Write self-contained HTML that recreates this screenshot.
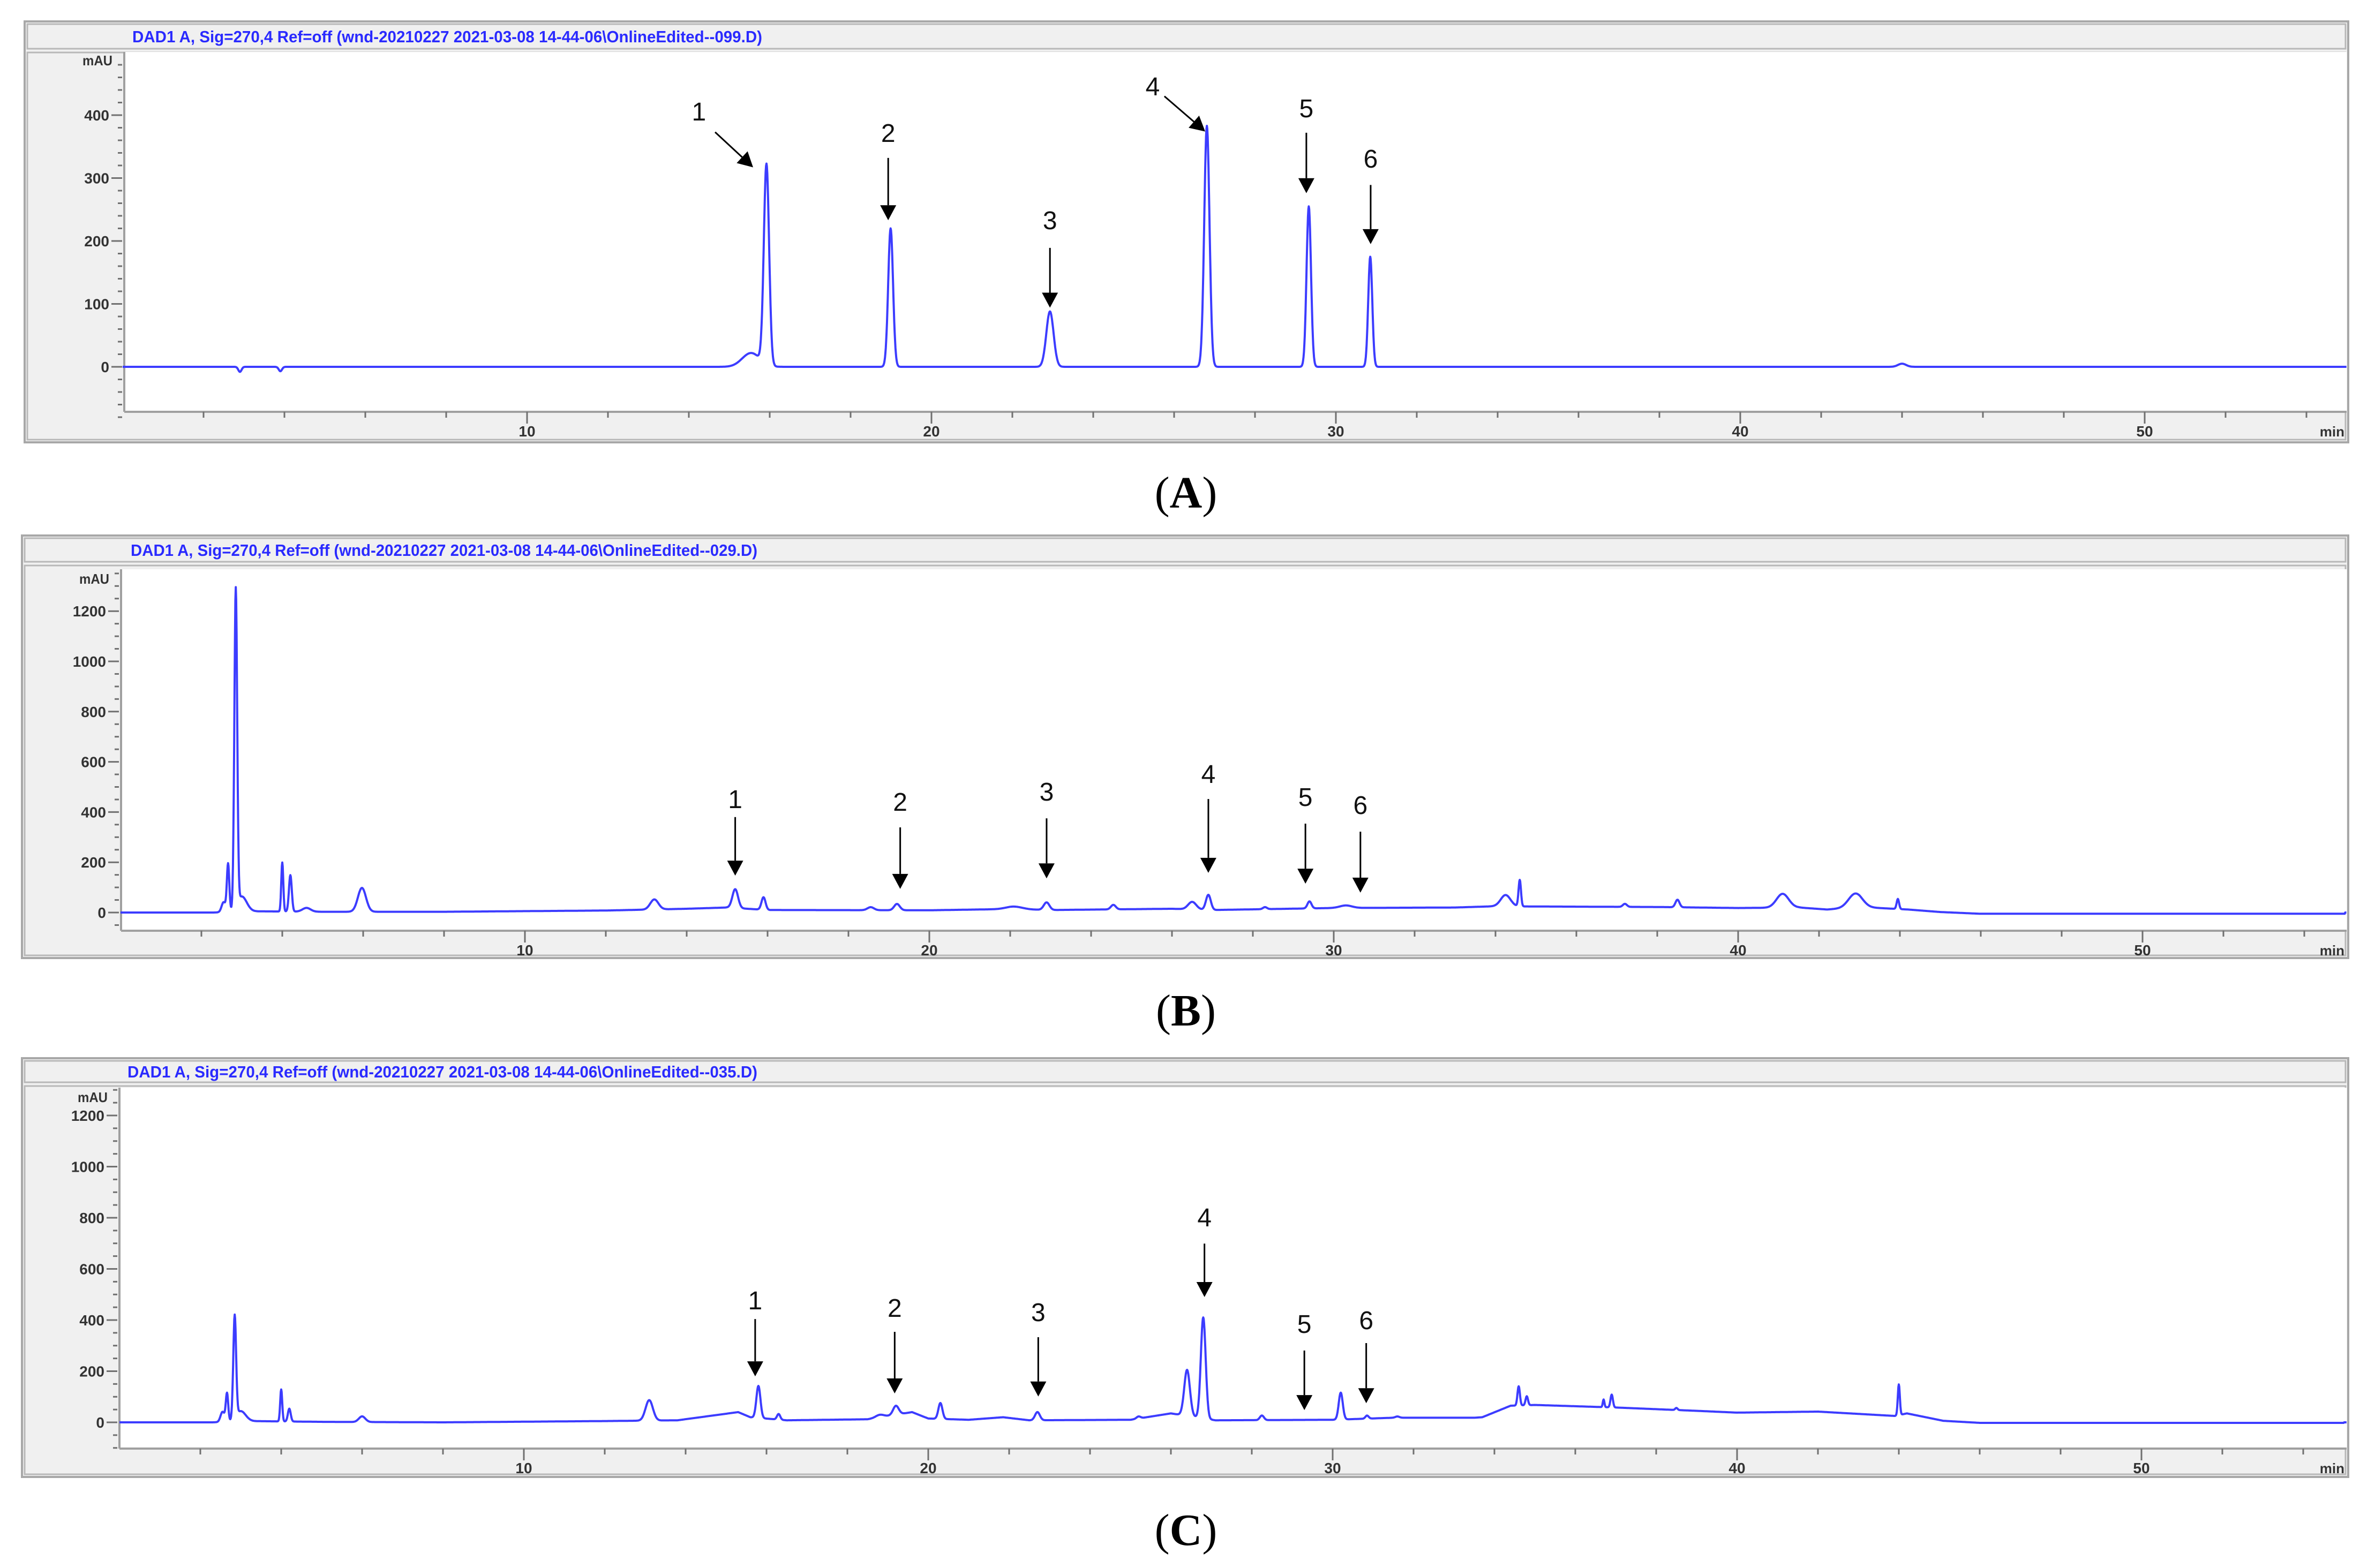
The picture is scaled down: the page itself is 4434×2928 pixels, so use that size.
<!DOCTYPE html>
<html><head><meta charset="utf-8"><title>Chromatograms</title>
<style>html,body{margin:0;padding:0;background:#fff}svg{display:block}</style></head>
<body>
<svg id="fig" xmlns="http://www.w3.org/2000/svg" width="4434" height="2928" viewBox="0 0 4434 2928"></svg>
<script>
// ---- Panel A data ----
const A_peakTimes   = [2.9, 3.9, 15.54, 15.92, 18.99, 22.93, 26.81, 29.33, 30.85, 44.0];
const A_peakHeights = [-8, -7, 22, 318, 220, 88, 383, 255, 175, 5];
const A_peakSigmas  = [0.04, 0.04, 0.22, 0.065, 0.06, 0.09, 0.065, 0.055, 0.05, 0.1];
const A_baseTimes   = [0, 55];
const A_baseValues  = [0, 0];
const A_yTicks = [0, 100, 200, 300, 400];
const A_arrowLabels = ["1","2","3","4","5","6"];
const A_arrowLabelT = [14.25, 18.93, 22.93, 25.47, 29.27, 30.86];
const A_arrowLabelV = [406, 372, 233, 446, 411, 331];
const A_arrowTailT  = [14.65, 18.93, 22.93, 25.76, 29.27, 30.86];
const A_arrowTailV  = [373, 332, 189, 430, 372, 289];
const A_arrowTipT   = [15.59, 18.93, 22.93, 26.77, 29.27, 30.86];
const A_arrowTipV   = [317, 233, 94, 374, 276, 195];

// ---- Panel B data ----
const B_peakTimes   = [2.55, 2.66, 2.85, 3.0, 4.0, 4.2, 4.6, 5.97, 13.2, 15.2, 15.9, 18.55, 19.2, 22.1, 22.9, 24.55, 26.5, 26.9, 28.3, 29.4, 30.3, 34.25, 34.6, 37.2, 38.5, 41.1, 42.9, 43.95];
const B_peakHeights = [40, 190, 1265, 60, 195, 145, 15, 95, 40, 75, 50, 12, 25, 10, 30, 18, 30, 60, 8, 28, 10, 45, 105, 12, 30, 55, 55, 40];
const B_peakSigmas  = [0.05, 0.03, 0.035, 0.12, 0.025, 0.035, 0.1, 0.1, 0.1, 0.07, 0.05, 0.08, 0.07, 0.2, 0.07, 0.06, 0.1, 0.06, 0.05, 0.05, 0.15, 0.12, 0.03, 0.05, 0.05, 0.15, 0.17, 0.03];
const B_baseTimes   = [0, 2.3, 3.2, 5, 8, 12, 14, 15, 16, 20, 22, 23, 26, 27, 30, 33, 34, 35, 38, 40, 41.5, 42.2, 43, 44.2, 45, 46, 55];
const B_baseValues  = [0, 0, 5, 3, 3, 8, 15, 20, 10, 9, 14, 10, 15, 10, 18, 20, 25, 24, 22, 18, 20, 12, 22, 12, 2, -5, -5];
const B_yTicks = [0, 200, 400, 600, 800, 1000, 1200];
const B_arrowLabels = ["1","2","3","4","5","6"];
const B_arrowLabelT = [15.2, 19.28, 22.9, 26.9, 29.3, 30.66];
const B_arrowLabelV = [452, 441, 482, 552, 461, 429];
const B_arrowTailT  = [15.2, 19.28, 22.9, 26.9, 29.3, 30.66];
const B_arrowTailV  = [380, 339, 375, 452, 354, 322];
const B_arrowTipT   = [15.2, 19.28, 22.9, 26.9, 29.3, 30.66];
const B_arrowTipV   = [147, 94, 136, 158, 115, 79];

// ---- Panel C data ----
const C_peakTimes   = [2.55, 2.66, 2.85, 3.0, 4.0, 4.2, 6.0, 13.1, 15.8, 16.3, 18.8, 19.2, 20.3, 22.7, 25.2, 26.4, 26.8, 28.25, 30.2, 30.85, 31.6, 34.6, 34.8, 36.7, 36.9, 38.5, 44.0];
const C_peakHeights = [40, 110, 400, 40, 125, 50, 22, 80, 125, 22, 10, 35, 62, 32, 8, 180, 395, 18, 105, 12, 5, 75, 35, 30, 50, 8, 120];
const C_peakSigmas  = [0.05, 0.03, 0.035, 0.12, 0.025, 0.035, 0.08, 0.09, 0.05, 0.04, 0.1, 0.07, 0.05, 0.06, 0.05, 0.07, 0.06, 0.05, 0.05, 0.04, 0.05, 0.03, 0.03, 0.02, 0.03, 0.03, 0.025];
const C_baseTimes   = [0, 2.3, 3.2, 5, 8, 12, 13.8, 15.3, 15.6, 16.5, 18.5, 19.6, 20, 21, 21.85, 22.5, 25, 26, 27.1, 30, 31.5, 33.5, 33.7, 34.4, 35, 37, 39, 40, 42, 43.9, 44.2, 45.1, 46, 55];
const C_baseValues  = [0, 0, 5, 2, 0, 5, 8, 40, 20, 8, 12, 40, 15, 10, 20, 8, 10, 35, 8, 10, 18, 18, 20, 65, 68, 58, 45, 38, 42, 25, 35, 6, -2, -2];
const C_yTicks = [0, 200, 400, 600, 800, 1000, 1200];
const C_arrowLabels = ["1","2","3","4","5","6"];
const C_arrowLabelT = [15.72, 19.17, 22.72, 26.83, 29.3, 30.83];
const C_arrowLabelV = [477, 448, 431, 802, 385, 400];
const C_arrowTailT  = [15.72, 19.17, 22.72, 26.83, 29.3, 30.83];
const C_arrowTailV  = [404, 354, 333, 699, 281, 310];
const C_arrowTipT   = [15.72, 19.17, 22.72, 26.83, 29.3, 30.83];
const C_arrowTipV   = [180, 113, 101, 490, 48, 75];

const xTickLabels = [10, 20, 30, 40, 50];

const NS = "http://www.w3.org/2000/svg";
const svg = document.getElementById('fig');
function mk(tag, attrs, parent) {
  const e = document.createElementNS(NS, tag);
  for (const k in attrs) e.setAttribute(k, attrs[k]);
  (parent || svg).appendChild(e);
  return e;
}

function drawPanel(id, L, D) {
  const g = mk('g', {});
  
  
  const xs = t => L.x0 + L.pxPerMin * t;
  const ys = v => L.y0 - L.pxPerU * v;
  const fr = mk('rect', {x: L.fx, y: L.fy, width: L.fw, height: L.fh, fill: '#f0f0f0', stroke: '#a8a8a8', 'stroke-width': 4}, g);
  
  
  const tb = mk('rect', {x: L.fx + 5, y: L.fy + 5, width: L.fw - 10, height: L.titleH, fill: '#f0f0f0', stroke: '#b8b8b8', 'stroke-width': 3}, g);
  
  
  const tt = mk('text', {x: L.titleX, y: L.fy + 5 + L.titleH / 2 + 11, 'font-family': 'Liberation Sans, sans-serif', 'font-size': 31, 'font-weight': 'bold', fill: '#2a2aff', textLength: L.titleW, lengthAdjust: 'spacingAndGlyphs'}, g);
  tt.textContent = D.title;
  
  
  const cb = mk('rect', {x: L.fx + 5, y: L.fy + L.titleH + 12, width: L.fw - 10, height: L.fh - L.titleH - 17, fill: '#f0f0f0', stroke: '#b8b8b8', 'stroke-width': 3}, g);
  
  
  const pa = mk('rect', {x: L.px, y: L.py, width: L.pr - L.px, height: L.axisY - L.py, fill: '#ffffff'}, g);
  
  
  const ya = mk('line', {x1: L.px, y1: L.py, x2: L.px, y2: L.axisY, stroke: '#a0a0a0', 'stroke-width': 4}, g);
  
  
  const xa = mk('line', {x1: L.px, y1: L.axisY, x2: L.pr, y2: L.axisY, stroke: '#a0a0a0', 'stroke-width': 4}, g);
  
  
  for (let v = L.yMin; v <= L.yMax + 0.001; v += L.yMinor) {
    const major = D.yTicks.indexOf(Math.round(v)) >= 0;
    const tk = mk('line', {x1: L.px - (major ? 24 : 12), y1: ys(v), x2: L.px - 4, y2: ys(v), stroke: '#707070', 'stroke-width': 3}, g);
    
    
  }
  D.yTicks.forEach(v => {
    const t = mk('text', {x: L.px - 28, y: ys(v) + 10, 'text-anchor': 'end', 'font-family': 'Liberation Sans, sans-serif', 'font-size': 28, 'font-weight': 'bold', fill: '#333'}, g);
    t.textContent = v;
    
    
  });
  const mau = mk('text', {x: L.px - 22, y: L.mauY, 'text-anchor': 'end', 'font-family': 'Liberation Sans, sans-serif', 'font-size': 26, 'font-weight': 'bold', fill: '#333', textLength: 56, lengthAdjust: 'spacingAndGlyphs'}, g);
  mau.textContent = 'mAU';
  
  
  for (let t = 2; t <= 54; t += 2) {
    const major = t % 10 === 0;
    const tk = mk('line', {x1: xs(t), y1: L.axisY, x2: xs(t), y2: L.axisY + (major ? 22 : 11), stroke: '#707070', 'stroke-width': 3}, g);
    
    
  }
  xTickLabels.forEach(t => {
    const tx = mk('text', {x: xs(t), y: L.axisY + 46, 'text-anchor': 'middle', 'font-family': 'Liberation Sans, sans-serif', 'font-size': 28, 'font-weight': 'bold', fill: '#333'}, g);
    tx.textContent = t;
    
    
  });
  const mn = mk('text', {x: L.pr - 4, y: L.axisY + 46, 'text-anchor': 'end', 'font-family': 'Liberation Sans, sans-serif', 'font-size': 26, 'font-weight': 'bold', fill: '#333'}, g);
  mn.textContent = 'min';
  
  
  const tMax = (L.pr - L.x0) / L.pxPerMin;
  let d = '';
  for (let t = 0; t <= tMax; t += 0.01) {
    let b = 0;
    for (let i = 0; i < D.baseT.length - 1; i++) {
      if (t >= D.baseT[i] && t <= D.baseT[i + 1]) {
        b = D.baseV[i] + (D.baseV[i + 1] - D.baseV[i]) * (t - D.baseT[i]) / (D.baseT[i + 1] - D.baseT[i]);
        break;
      }
    }
    let v = b;
    for (let i = 0; i < D.pT.length; i++) {
      const z = (t - D.pT[i]) / D.pS[i];
      if (Math.abs(z) < 8) v += D.pH[i] * Math.exp(-0.5 * z * z);
    }
    d += (d ? 'L' : 'M') + xs(t).toFixed(1) + ' ' + ys(v).toFixed(1);
  }
  const tr = mk('path', {d: d, fill: 'none', stroke: '#3c3cff', 'stroke-width': 4, 'stroke-linejoin': 'round'}, g);
  
  
  D.aL.forEach((lab, i) => {
    const x1 = xs(D.aTailT[i]), y1 = ys(D.aTailV[i]), x2 = xs(D.aTipT[i]), y2 = ys(D.aTipV[i]);
    const ang = Math.atan2(y2 - y1, x2 - x1);
    const hl = 28, hw = 15;
    const bx = x2 - hl * Math.cos(ang), by = y2 - hl * Math.sin(ang);
    const ln = mk('line', {x1: x1, y1: y1, x2: bx, y2: by, stroke: '#000', 'stroke-width': 3}, g);
    
    
    const p = [x2, y2, bx + hw * Math.sin(ang), by - hw * Math.cos(ang), bx - hw * Math.sin(ang), by + hw * Math.cos(ang)];
    const hd = mk('polygon', {points: p.map(n => n.toFixed(1)).join(' '), fill: '#000'}, g);
    
    
    const tx = mk('text', {x: xs(D.aLT[i]), y: ys(D.aLV[i]) + 17, 'text-anchor': 'middle', 'font-family': 'Liberation Sans, sans-serif', 'font-size': 48, fill: '#111'}, g);
    tx.textContent = lab;
    
    
  });
  const cap = mk('text', {x: 2214, y: L.capY, 'text-anchor': 'middle', 'font-family': 'Liberation Serif, serif', 'font-size': 84, fill: '#000'}, svg);
  cap.innerHTML = '(<tspan font-weight="bold">' + id + '</tspan>)';
  
  
}

drawPanel('A',
  {fx: 46, fy: 40, fw: 4338, fh: 786, titleH: 46, titleX: 247, titleW: 1176, px: 232, py: 97, pr: 4381, axisY: 769,
   x0: 229, pxPerMin: 75.5, y0: 685, pxPerU: 1.175, yMin: -80, yMax: 480, yMinor: 20, mauY: 122, capY: 948},
  {title: 'DAD1 A, Sig=270,4 Ref=off (wnd-20210227 2021-03-08 14-44-06\\OnlineEdited--099.D)', yTicks: A_yTicks,
   pT: A_peakTimes, pH: A_peakHeights, pS: A_peakSigmas, baseT: A_baseTimes, baseV: A_baseValues,
   aL: A_arrowLabels, aLT: A_arrowLabelT, aLV: A_arrowLabelV, aTailT: A_arrowTailT, aTailV: A_arrowTailV, aTipT: A_arrowTipT, aTipV: A_arrowTipV});

drawPanel('B',
  {fx: 41, fy: 1000, fw: 4343, fh: 789, titleH: 44, titleX: 244, titleW: 1170, px: 226, py: 1063, pr: 4381, axisY: 1738,
   x0: 225, pxPerMin: 75.5, y0: 1704, pxPerU: 0.469, yMin: -50, yMax: 1350, yMinor: 50, mauY: 1090, capY: 1915},
  {title: 'DAD1 A, Sig=270,4 Ref=off (wnd-20210227 2021-03-08 14-44-06\\OnlineEdited--029.D)', yTicks: B_yTicks,
   pT: B_peakTimes, pH: B_peakHeights, pS: B_peakSigmas, baseT: B_baseTimes, baseV: B_baseValues,
   aL: B_arrowLabels, aLT: B_arrowLabelT, aLV: B_arrowLabelV, aTailT: B_arrowTailT, aTailV: B_arrowTailV, aTipT: B_arrowTipT, aTipV: B_arrowTipV});

drawPanel('C',
  {fx: 41, fy: 1976, fw: 4343, fh: 782, titleH: 40, titleX: 238, titleW: 1176, px: 223, py: 2031, pr: 4381, axisY: 2705,
   x0: 223, pxPerMin: 75.5, y0: 2656, pxPerU: 0.4775, yMin: -100, yMax: 1300, yMinor: 50, mauY: 2058, capY: 2885},
  {title: 'DAD1 A, Sig=270,4 Ref=off (wnd-20210227 2021-03-08 14-44-06\\OnlineEdited--035.D)', yTicks: C_yTicks,
   pT: C_peakTimes, pH: C_peakHeights, pS: C_peakSigmas, baseT: C_baseTimes, baseV: C_baseValues,
   aL: C_arrowLabels, aLT: C_arrowLabelT, aLV: C_arrowLabelV, aTailT: C_arrowTailT, aTailV: C_arrowTailV, aTipT: C_arrowTipT, aTipV: C_arrowTipV});
</script>
</body></html>
